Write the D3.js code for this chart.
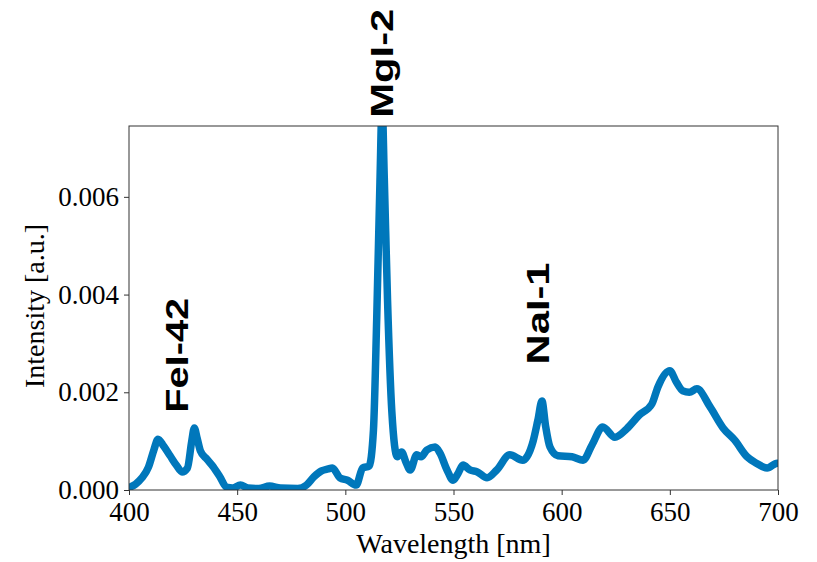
<!DOCTYPE html>
<html>
<head>
<meta charset="utf-8">
<script src="https://cdn.jsdelivr.net/npm/d3@7"></script>
<style>
    body { margin: 0; background: #fff; }
    .tick text { font-family: "Liberation Serif", "Times New Roman", serif; font-size: 27px; fill: #000; }
    .tick line { stroke: #333; }
    .axis-label { font-family: "Liberation Serif", "Times New Roman", serif; font-size: 28px; fill: #000; }
    .peak-label { font-family: "Liberation Sans", Arial, sans-serif; font-weight: bold; font-size: 31px; fill: #000; }
</style>
</head>
<body>
<svg id="chart" width="817" height="562"></svg>
<script>
// spectrum
var wavelength = [400, 403, 406, 409, 411.5, 413.4, 416, 419, 422, 424.5, 427, 429, 430.2, 431.5, 433, 436, 439, 442, 445, 448,
    451.5, 455, 460, 465, 470, 478, 482, 485.5, 489, 492, 494, 497.5, 501, 505, 508, 511, 513, 514.5, 516, 517,
    518, 519.5, 521.5, 524, 526, 528, 530, 533, 535, 537.7, 541.5, 543.7, 547, 549.8, 552, 554.4, 557.6, 561, 565.5, 570,
    576, 582, 586.8, 589, 590.9, 592.5, 594.6, 598.3, 604.8, 609.9, 614, 619, 624.6, 630, 636, 641.7, 644.5, 650, 653, 656,
    659, 662.5, 668.6, 674.6, 680, 685.7, 690, 695, 699.6, 700];
var intensity = [0.00005, 0.00012, 0.00025, 0.00047, 0.00082, 0.00104, 0.0009, 0.0007, 0.0005, 0.00037, 0.00045, 0.001, 0.00127, 0.00106, 0.0008, 0.00063, 0.00047, 0.00027, 0.00006, 0.00004,
    0.0001, 0.00004, 0.00003, 0.00008, 0.00004, 0.00003, 0.0001, 0.00027, 0.00039, 0.00043, 0.00045, 0.00025, 0.0002, 0.0001, 0.00045, 0.00049, 0.00123, 0.0035, 0.0063, 0.0079,
    0.0064, 0.0039, 0.0016, 0.00068, 0.00078, 0.00057, 0.00041, 0.00072, 0.00068, 0.00082, 0.00088, 0.00076, 0.00041, 0.0002, 0.00033, 0.00051, 0.00041, 0.00037, 0.00025, 0.00041,
    0.00072, 0.00061, 0.001, 0.00143, 0.00182, 0.00133, 0.00088, 0.0007, 0.00068, 0.00061, 0.00092, 0.00129, 0.00108, 0.00125, 0.00154, 0.00176, 0.00211, 0.00244, 0.00221, 0.00203,
    0.002, 0.00207, 0.0017, 0.00127, 0.00102, 0.00068, 0.00055, 0.00045, 0.00055, 0.00055];

var xTicks = [400, 450, 500, 550, 600, 650, 700];
var yTicks = [0, 0.002, 0.004, 0.006];

// line labels: name, wavelength, intensity where the text starts
var labelNames = ["FeI-42", "MgI-2", "NaI-1"];
var labelWl = [427.4, 522.1, 594.3];
var labelVal = [0.00158, 0.00762, 0.00257];
var labelLen = [115, 109, 102];

(function () {
    "use strict";
    var svg = d3.select("#chart"),
        margin = {top: 126, right: 39, bottom: 72, left: 129},
        width = 817 - margin.left - margin.right,
        height = 562 - margin.top - margin.bottom,
        g = svg.append("g").attr("transform", "translate(" + margin.left + "," + margin.top + ")"),
        x = d3.scaleLinear().domain([400, 700]).range([0, width]),
        y = d3.scaleLinear().domain([0, 0.00745]).range([height, 0]),
        points = wavelength.map(function (w, i) { return [w, intensity[i]]; }),
        line;

    svg.append("clipPath").attr("id", "plotClip")
        .append("rect").attr("width", width).attr("height", height);

    line = d3.line()
        .x(function (d) { return x(d[0]); })
        .y(function (d) { return y(d[1]); })
        .curve(d3.curveMonotoneX);

    g.append("path")
        .datum(points)
        .attr("clip-path", "url(#plotClip)")
        .attr("fill", "none")
        .attr("stroke", "#0077bb")
        .attr("stroke-width", 7.5)
        .attr("stroke-linejoin", "round")
        .attr("stroke-linecap", "round")
        .attr("d", line);

    //axes
    g.append("g")
        .attr("transform", "translate(0," + height + ")")
        .call(d3.axisBottom(x).tickValues(xTicks).tickSizeOuter(0).tickSize(5).tickPadding(4))
        .call(function (a) { a.select(".domain").remove(); })
        .selectAll(".tick text").attr("dy", "0.8em");

    g.append("g")
        .call(d3.axisLeft(y).tickValues(yTicks).tickSizeOuter(0).tickSize(5).tickPadding(5).tickFormat(d3.format(".3f")))
        .call(function (a) { a.select(".domain").remove(); });

    // frame round the plot
    g.append("rect")
        .attr("width", width).attr("height", height)
        .attr("fill", "none").attr("stroke", "#333");

    svg.append("text")
        .attr("class", "axis-label")
        .attr("text-anchor", "middle")
        .attr("x", margin.left + width / 2)
        .attr("y", 553)
        .text("Wavelength [nm]");

    svg.append("text")
        .attr("class", "axis-label")
        .attr("text-anchor", "middle")
        .attr("transform", "translate(44," + (margin.top + height / 2 - 2) + ") rotate(-90)")
        .text("Intensity [a.u.]");

    //peak labels
    labelNames.forEach(function (name, i) {
        g.append("text")
            .attr("class", "peak-label")
            .attr("transform", "translate(" + x(labelWl[i]) + "," + y(labelVal[i]) + ") rotate(-90)")
            .attr("textLength", labelLen[i])
            .attr("lengthAdjust", "spacingAndGlyphs")
            .text(name);
    });
}());
</script>
</body>
</html>
